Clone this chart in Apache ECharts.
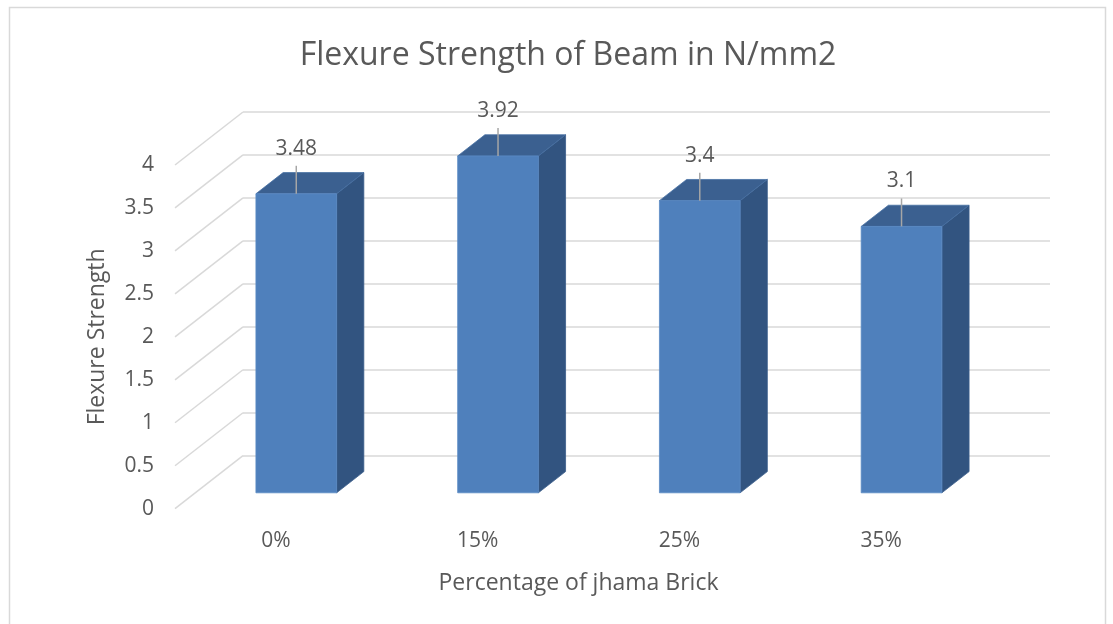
<!DOCTYPE html>
<html>
<head>
<meta charset="utf-8">
<script src="https://cdn.jsdelivr.net/npm/echarts@6/dist/echarts.min.js"></script>
<style>
html,body{margin:0;padding:0;background:#fff;}
#main{width:1113px;height:624px;}
</style>
</head>
<body>
<div id="main"></div>
<script>
// ---- data ----
var categories = ['0%', '15%', '25%', '35%'];
var values = [3.48, 3.92, 3.4, 3.1];
var yTicks = [0, 0.5, 1, 1.5, 2, 2.5, 3, 3.5, 4];
var titleText = 'Flexure Strength of Beam in N/mm2';
var xName = 'Percentage of jhama Brick';
var yName = 'Flexure Strength';

// ---- style constants (oblique 3D depth) ----
var DX = 68, DY = 53;
var FONT = 'Open Sans';
var TXT = '#595959';
var GRID_C = '#d9d9d9';

var chart = echarts.init(document.getElementById('main'), null, {renderer: 'canvas'});

function diagItem(params, api) {
  var v = api.value(0);
  var p = api.coord([0, v]);
  var band = api.size([1, 0])[0];
  var x = p[0] - band / 2;
  return {
    type: 'line',
    shape: {x1: x, y1: p[1], x2: x + DX, y2: p[1] - DY},
    style: {stroke: GRID_C, lineWidth: 1.5}
  };
}

function barItem(params, api) {
  var i = api.value(0);
  var v = api.value(1);
  var c0 = api.coord([i, 0]);
  var cv = api.coord([i, v]);
  var band = api.size([1, 0])[0];
  var w = band * 0.4;
  var fx = 0.3 * DX, fy = 0.3 * DY;
  var dx = 0.4 * DX, dy = 0.4 * DY;
  var x0 = c0[0] - w / 2 + fx, x1 = x0 + w;
  var yb = c0[1] - fy, yt = cv[1] - fy;
  var cx = (x0 + x1) / 2;
  return {
    type: 'group',
    children: [
      {type: 'polygon', shape: {points: [[x1, yt], [x1, yb], [x1 + dx, yb - dy], [x1 + dx, yt - dy]]},
        style: {fill: '#325480', stroke: '#3a5d8a', lineWidth: 0.8}},
      {type: 'polygon', shape: {points: [[x0, yt], [x1, yt], [x1 + dx, yt - dy], [x0 + dx, yt - dy]]},
        style: {fill: '#3b6090', stroke: '#4670a3', lineWidth: 0.8}},
      {type: 'rect', shape: {x: x0, y: yt, width: w, height: yb - yt},
        style: {fill: '#4f80bc', stroke: '#5b8ac4', lineWidth: 0.8}},
      {type: 'line', shape: {x1: cx, y1: yt, x2: cx, y2: yt - 28},
        style: {stroke: '#a6a6a6', lineWidth: 1.5}},
      {type: 'text', x: cx, y: yt - 45,
        style: {text: String(v), fill: TXT, font: '21px "' + FONT + '"', align: 'center', verticalAlign: 'middle'}}
    ]
  };
}

var option = {
  backgroundColor: '#ffffff',
  animation: false,
  title: {
    text: titleText,
    left: 563,
    textAlign: 'center',
    top: 35,
    textStyle: {fontFamily: FONT, fontSize: 32, fontWeight: 'normal', color: TXT}
  },
  graphic: [{
    type: 'rect', shape: {x: 9.5, y: 7.5, width: 1096, height: 700},
    style: {fill: 'none', stroke: GRID_C, lineWidth: 1.5}, silent: true, z: -10
  }],
  grid: [
    {left: 175, right: 131, top: 165, bottom: 115.3},
    {left: 175 + DX, right: 131 - DX, top: 165 - DY, bottom: 115.3 + DY}
  ],
  xAxis: [
    {type: 'category', gridIndex: 0, data: categories,
      axisLine: {show: false}, axisTick: {show: false}, splitLine: {show: false},
      axisLabel: {margin: 22, fontFamily: FONT, fontSize: 21, color: TXT},
      name: xName, nameLocation: 'middle', nameGap: 63,
      nameTextStyle: {fontFamily: FONT, fontSize: 23, color: TXT}},
    {type: 'category', gridIndex: 1, data: categories, show: false}
  ],
  yAxis: [
    {type: 'value', gridIndex: 0, min: 0, max: 4, interval: 0.5,
      axisLine: {show: false}, axisTick: {show: false}, splitLine: {show: false},
      axisLabel: {margin: 21, fontFamily: FONT, fontSize: 21, color: TXT},
      name: yName, nameLocation: 'middle', nameGap: 66, nameRotate: 90,
      nameTextStyle: {fontFamily: FONT, fontSize: 23, color: TXT}},
    {type: 'value', gridIndex: 1, min: 0, max: 4, interval: 0.5,
      axisLine: {show: false}, axisTick: {show: false}, axisLabel: {show: false},
      splitLine: {show: true, lineStyle: {color: GRID_C, width: 1.5}}}
  ],
  series: [
    {type: 'custom', xAxisIndex: 0, yAxisIndex: 0, z: 1, silent: true,
      data: yTicks.map(function (t) { return [t]; }), renderItem: diagItem,
      encode: {y: 0}},
    {type: 'custom', xAxisIndex: 0, yAxisIndex: 0, z: 5, silent: true,
      data: values.map(function (v, i) { return [i, v]; }), renderItem: barItem,
      encode: {x: 0, y: 1}}
  ]
};
chart.setOption(option);
</script>
</body>
</html>
